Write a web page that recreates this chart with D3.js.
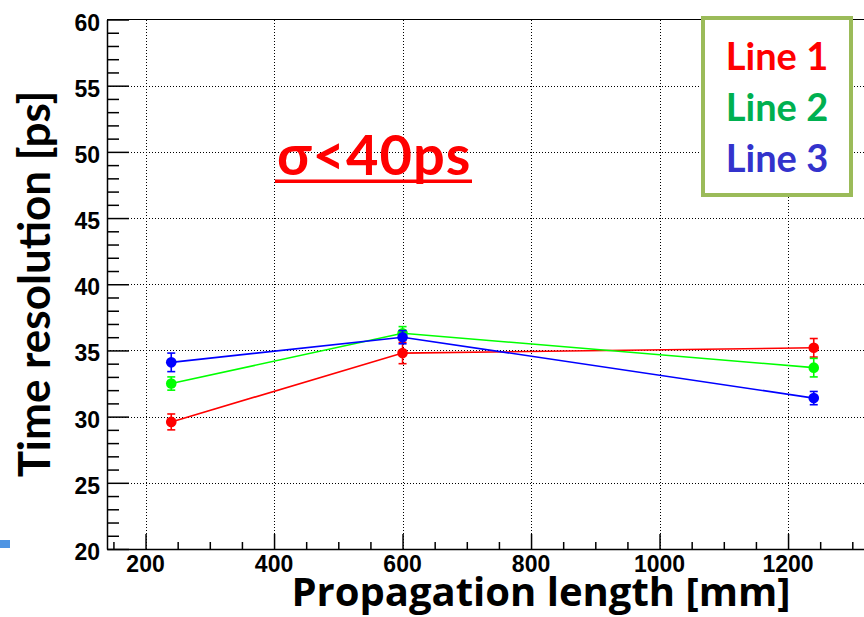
<!DOCTYPE html>
<html>
<head>
<meta charset="utf-8">
<script src="https://cdn.jsdelivr.net/npm/d3@7"></script>
<style>
  body { margin: 0; background: #fff; }
  svg { display: block; }
</style>
</head>
<body>
<svg id="grafico" width="864" height="617"></svg>
<script>
// propagation lengths and measured time resolutions
const longitudes = [240, 600, 1240];
const linea1 = [29.6, 34.8, 35.2];
const error1 = [0.6, 0.8, 0.7];
const linea2 = [32.5, 36.3, 33.7];
const error2 = [0.5, 0.5, 0.7];
const linea3 = [34.1, 36.0, 31.4];
const error3 = [0.7, 0.5, 0.5];

const nombres = ["Line 1", "Line 2", "Line 3"];
const coloresSerie = ["#ff0000", "#00ff00", "#0000ff"];
const coloresLeyenda = ["#ff0000", "#00b050", "#3333cc"];

const ticksX = [200, 400, 600, 800, 1000, 1200];
const ticksY = [20, 25, 30, 35, 40, 45, 50, 55, 60];

const series = [linea1, linea2, linea3].map((vals, i) => ({
  nombre: nombres[i],
  color: coloresSerie[i],
  puntos: vals.map((v, j) => ({
    x: longitudes[j],
    y: v,
    e: [error1, error2, error3][i][j]
  }))
}));

const svg = d3.select("#grafico");

const x = d3.scaleLinear().domain([140, 1340]).range([107, 878]);
const y = d3.scaleLinear().domain([20, 60]).range([549, 19.5]);

const fuenteEjes = "'Liberation Sans', Arial, sans-serif";
const fuenteTitulo = "Lato, 'Open Sans', sans-serif";

// dotted grid
const grid = svg.append("g")
  .attr("stroke", "#000")
  .attr("stroke-width", 1)
  .attr("stroke-dasharray", "1,2")
  .attr("shape-rendering", "crispEdges");

grid.selectAll("line.gx")
  .data(ticksX)
  .join("line")
  .attr("class", "gx")
  .attr("x1", d => Math.round(x(d)) + 0.5).attr("x2", d => Math.round(x(d)) + 0.5)
  .attr("y1", y(20)).attr("y2", y(60));

grid.selectAll("line.gy")
  .data(ticksY.filter(d => d > 20 && d < 60))
  .join("line")
  .attr("class", "gy")
  .attr("x1", x(140)).attr("x2", x(1340))
  .attr("y1", d => Math.round(y(d)) + 0.5).attr("y2", d => Math.round(y(d)) + 0.5);

// frame
svg.append("line")
  .attr("x1", x(140)).attr("x2", x(1340))
  .attr("y1", y(60)).attr("y2", y(60))
  .attr("stroke", "#000").attr("stroke-width", 1.2);

// x axis
const ejeX = svg.append("g")
  .attr("transform", `translate(0,${y(20)})`)
  .call(d3.axisBottom(x)
    .tickValues(d3.range(150, 1340, 50))
    .tickSizeInner(-7)
    .tickSizeOuter(0)
    .tickFormat(""));

ejeX.selectAll(".tick line")
  .attr("y2", d => d % 200 === 0 ? -15 : -7);
ejeX.selectAll("path, line").attr("stroke", "#000").attr("stroke-width", 1.5);

svg.append("g")
  .selectAll("text")
  .data(ticksX)
  .join("text")
  .attr("x", d => x(d))
  .attr("y", 572)
  .attr("text-anchor", "middle")
  .attr("font-family", fuenteEjes)
  .attr("font-weight", "bold")
  .attr("font-size", 23)
  .text(d => d);

// y axis
const ejeY = svg.append("g")
  .attr("transform", `translate(${x(140)},0)`)
  .call(d3.axisLeft(y)
    .tickValues(d3.range(20, 61, 1))
    .tickSizeOuter(0)
    .tickFormat(""));

ejeY.selectAll(".tick line")
  .attr("x2", d => d % 5 === 0 ? 22 : 12);
ejeY.selectAll("path, line").attr("stroke", "#000").attr("stroke-width", 1.5);

svg.append("g")
  .selectAll("text")
  .data(ticksY)
  .join("text")
  .attr("x", 100)
  .attr("y", d => y(d) + 11)
  .attr("text-anchor", "end")
  .attr("font-family", fuenteEjes)
  .attr("font-weight", "bold")
  .attr("font-size", 23)
  .text(d => d);

// axis titles
svg.append("text")
  .attr("x", 541)
  .attr("y", 606)
  .attr("text-anchor", "middle")
  .attr("font-family", "'Open Sans', Lato, sans-serif")
  .attr("font-weight", "bold")
  .attr("font-size", 40)
  .text("Propagation length [mm]");

svg.append("text")
  .attr("transform", "translate(50,284) rotate(-90)")
  .attr("text-anchor", "middle")
  .attr("font-family", fuenteTitulo)
  .attr("font-weight", "bold")
  .attr("font-size", 44)
  .text("Time resolution [ps]");

// series: lines, error bars, markers
const linea = d3.line().x(d => x(d.x)).y(d => y(d.y));

const capas = svg.append("g")
  .selectAll("g")
  .data(series)
  .join("g");

capas.append("path")
  .attr("d", d => linea(d.puntos))
  .attr("fill", "none")
  .attr("stroke", d => d.color)
  .attr("stroke-width", 1.6);

capas.each(function (s) {
  const g = d3.select(this);
  const barras = g.selectAll("g.err")
    .data(s.puntos)
    .join("g")
    .attr("stroke", s.color)
    .attr("stroke-width", 1.6);

  barras.append("line")
    .attr("x1", d => x(d.x)).attr("x2", d => x(d.x))
    .attr("y1", d => y(d.y - d.e)).attr("y2", d => y(d.y + d.e));
  barras.append("line")
    .attr("x1", d => x(d.x) - 4).attr("x2", d => x(d.x) + 4)
    .attr("y1", d => y(d.y + d.e)).attr("y2", d => y(d.y + d.e));
  barras.append("line")
    .attr("x1", d => x(d.x) - 4).attr("x2", d => x(d.x) + 4)
    .attr("y1", d => y(d.y - d.e)).attr("y2", d => y(d.y - d.e));

  g.selectAll("circle")
    .data(s.puntos)
    .join("circle")
    .attr("cx", d => x(d.x))
    .attr("cy", d => y(d.y))
    .attr("r", 5.3)
    .attr("fill", s.color);
});

// sigma annotation
svg.append("text")
  .attr("x", 277)
  .attr("y", 175)
  .attr("font-family", fuenteTitulo)
  .attr("font-weight", "bold")
  .attr("font-size", 56)
  .attr("letter-spacing", 1)
  .attr("fill", "#ff0000")
  .text("σ<40ps");

svg.append("rect")
  .attr("x", 275).attr("y", 179.5)
  .attr("width", 197).attr("height", 3.5)
  .attr("fill", "#ff0000");

// legend box
svg.append("rect")
  .attr("x", 703).attr("y", 18)
  .attr("width", 148).attr("height", 177)
  .attr("fill", "#fff")
  .attr("stroke", "#9bbb59")
  .attr("stroke-width", 4);

svg.append("g")
  .selectAll("text")
  .data(nombres)
  .join("text")
  .attr("x", 777)
  .attr("y", (d, i) => 70 + i * 51)
  .attr("text-anchor", "middle")
  .attr("font-family", fuenteTitulo)
  .attr("font-weight", "bold")
  .attr("font-size", 38)
  .attr("fill", (d, i) => coloresLeyenda[i])
  .text(d => d);

// small blue mark on the left edge
svg.append("rect")
  .attr("x", 0).attr("y", 540)
  .attr("width", 10).attr("height", 8)
  .attr("fill", "#4f95e3");
</script>
</body>
</html>
